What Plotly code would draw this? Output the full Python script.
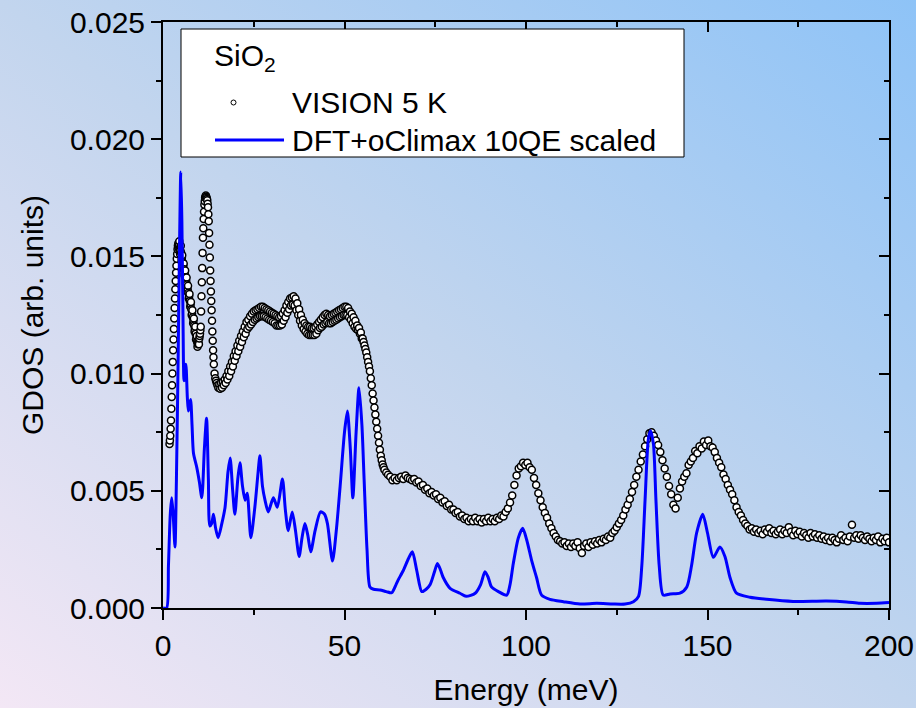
import base64
import plotly.graph_objects as go

# ---------------- data ----------------
# VISION 5 K, low-energy part
vision_E_low = [
    1.8, 1.9, 2.0, 2.1, 2.2, 2.3, 2.4, 2.5, 2.6, 2.7, 2.8, 2.9, 3.0, 3.1, 3.2, 3.3, 3.4, 3.5, 3.6, 3.7,
    3.8, 3.9, 4.0, 4.1,
    4.2, 4.3, 4.4, 4.5, 4.6, 4.7, 4.8, 4.9, 5.0, 5.1, 5.2, 5.3, 5.4, 5.5, 5.6, 5.7, 5.8, 5.9, 6.0, 6.1,
    6.2, 6.3, 6.4, 6.5, 6.6, 6.7, 6.8, 6.9, 7.0, 7.1, 7.2, 7.3, 7.4, 7.5, 7.6, 7.7, 7.8, 7.9, 8.0, 8.1,
    8.2, 8.3, 8.4, 8.5, 8.6, 8.7, 8.8, 8.9, 9.0, 9.1, 9.2, 9.3, 9.4, 9.5, 9.6, 9.7, 9.8, 9.9, 10.0,
    10.1, 10.2, 10.3, 10.4, 10.5, 10.6, 10.7, 10.8, 10.9, 11.0, 11.1, 11.2, 11.3, 11.4, 11.5, 11.6, 11.7,
    11.8, 11.9, 12.0, 12.1, 12.2, 12.3, 12.4, 12.5, 12.6, 12.7, 12.8, 12.9, 13.0, 13.1, 13.2, 13.3, 13.4,
    13.5, 13.6, 13.7, 13.8, 13.9, 14.0,
    14.2, 14.4, 14.6, 14.8, 15.0,
]
vision_G_low = [
    0.00700, 0.00715, 0.00735, 0.00765, 0.00800, 0.00850, 0.00900, 0.00950, 0.01000, 0.01050, 0.01100,
    0.01145, 0.01190, 0.01235, 0.01280, 0.01320, 0.01360, 0.01395, 0.01430, 0.01460, 0.01490, 0.01510,
    0.01530, 0.01545,
    0.01555, 0.01535, 0.01550, 0.01565, 0.01535, 0.01510, 0.01525, 0.01545, 0.01515, 0.01485, 0.01495,
    0.01505, 0.01475, 0.01450, 0.01460, 0.01470, 0.01445, 0.01420, 0.01430, 0.01440, 0.01410, 0.01385,
    0.01395, 0.01410, 0.01380, 0.01350, 0.01360, 0.01375, 0.01345, 0.01320, 0.01330, 0.01340, 0.01310,
    0.01285, 0.01295, 0.01305, 0.01275, 0.01250, 0.01255, 0.01270, 0.01240, 0.01215, 0.01225, 0.01235,
    0.01205, 0.01180, 0.01190, 0.01200, 0.01170, 0.01145, 0.01150, 0.01160, 0.01135, 0.01115, 0.01125,
    0.01135, 0.01130, 0.01125, 0.01150,
    0.01160, 0.01170, 0.01185, 0.01200, 0.01265, 0.01330, 0.01390, 0.01450, 0.01515, 0.01580,
    0.01620, 0.01660, 0.01690, 0.01720, 0.01735, 0.01750, 0.01755, 0.01760, 0.01755, 0.01750,
    0.01745, 0.01740, 0.01725, 0.01710, 0.01680, 0.01650, 0.01600, 0.01550, 0.01495, 0.01440,
    0.01395, 0.01350, 0.01310, 0.01270, 0.01225, 0.01180, 0.01140, 0.01100, 0.01070, 0.01040,
    0.01000, 0.00980, 0.00970, 0.00960, 0.00950,
]

# VISION 5 K, 15-62 meV plateau part
vision_E_mid = [
    15.25, 15.5, 15.75, 16.0, 16.25, 16.5, 16.75, 17.0, 17.25, 17.5, 17.75, 18.0, 18.25, 18.5, 18.75,
    19.0, 19.25, 19.5, 19.75, 20.0, 20.25, 20.5, 20.75, 21.0, 21.25, 21.5, 21.75, 22.0, 22.25, 22.5,
    22.75, 23.0, 23.25, 23.5, 23.75, 24.0, 24.25, 24.5, 24.75, 25.0, 25.25, 25.5, 25.75, 26.0, 26.25,
    26.5, 26.75, 27.0, 27.25, 27.5, 27.75, 28.0, 28.25, 28.5, 28.75, 29.0, 29.25, 29.5, 29.75, 30.0,
    30.25, 30.5, 30.75, 31.0, 31.25, 31.5, 31.75, 32.0, 32.25, 32.5, 32.75, 33.0, 33.25, 33.5, 33.75,
    34.0, 34.25, 34.5, 34.75, 35.0, 35.25, 35.5, 35.75, 36.0, 36.25, 36.5, 36.75, 37.0, 37.25, 37.5,
    37.75, 38.0, 38.25, 38.5, 38.75, 39.0, 39.25, 39.5, 39.75, 40.0, 40.25, 40.5, 40.75, 41.0, 41.25,
    41.5, 41.75, 42.0, 42.25, 42.5, 42.75, 43.0, 43.25, 43.5, 43.75, 44.0, 44.25, 44.5, 44.75, 45.0,
    45.25, 45.5, 45.75, 46.0, 46.25, 46.5, 46.75, 47.0, 47.25, 47.5, 47.75, 48.0, 48.25, 48.5, 48.75,
    49.0, 49.25, 49.5, 49.75, 50.0, 50.25, 50.5, 50.75, 51.0, 51.25, 51.5, 51.75, 52.0, 52.25, 52.5,
    52.75, 53.0, 53.25, 53.5, 53.75, 54.0, 54.25, 54.5, 54.75, 55.0, 55.25, 55.5, 55.75, 56.0, 56.25,
    56.5, 56.75, 57.0, 57.25, 57.5, 57.75, 58.0, 58.25, 58.5, 58.75, 59.0, 59.25, 59.5, 59.75, 60.0,
    60.25, 60.5, 60.75, 61.0, 61.5, 62.0,
]
vision_G_mid = [
    0.00940, 0.00955, 0.00935, 0.00960, 0.00940, 0.00965, 0.00950, 0.00975, 0.00960, 0.00990, 0.00975,
    0.01010, 0.00990, 0.01030, 0.01010, 0.01050, 0.01030, 0.01075, 0.01055, 0.01095, 0.01075, 0.01120,
    0.01095, 0.01140, 0.01115, 0.01160, 0.01135, 0.01180, 0.01155, 0.01200, 0.01170, 0.01220, 0.01190,
    0.01230, 0.01200, 0.01245, 0.01210, 0.01255, 0.01220, 0.01265, 0.01230, 0.01270, 0.01235, 0.01275,
    0.01240, 0.01280, 0.01245, 0.01285, 0.01245, 0.01285, 0.01245, 0.01280, 0.01240, 0.01275, 0.01235,
    0.01270, 0.01230, 0.01265, 0.01225, 0.01260, 0.01220, 0.01255, 0.01215, 0.01250, 0.01205, 0.01245,
    0.01205, 0.01240, 0.01205, 0.01245, 0.01210, 0.01255, 0.01225, 0.01270, 0.01240, 0.01290, 0.01260,
    0.01305, 0.01275, 0.01320, 0.01290, 0.01325, 0.01295, 0.01330, 0.01290, 0.01320, 0.01270, 0.01300,
    0.01250, 0.01275, 0.01225, 0.01250, 0.01205, 0.01230, 0.01190, 0.01215, 0.01180, 0.01205, 0.01170,
    0.01200, 0.01165, 0.01200, 0.01165, 0.01195, 0.01165, 0.01195, 0.01165, 0.01200, 0.01170, 0.01210,
    0.01185, 0.01220, 0.01195, 0.01230, 0.01200, 0.01240, 0.01210, 0.01250, 0.01215, 0.01255, 0.01220,
    0.01250, 0.01215, 0.01245, 0.01215, 0.01250, 0.01220, 0.01255, 0.01225, 0.01260, 0.01230, 0.01265,
    0.01235, 0.01270, 0.01240, 0.01275, 0.01245, 0.01280, 0.01250, 0.01285, 0.01250, 0.01285, 0.01250,
    0.01280, 0.01240, 0.01265, 0.01230, 0.01255, 0.01215, 0.01240, 0.01200, 0.01225, 0.01190, 0.01205,
    0.01185, 0.01195, 0.01170, 0.01175, 0.01150, 0.01150, 0.01135, 0.01120, 0.01105, 0.01090, 0.01070,
    0.01050, 0.01030, 0.01010, 0.00980, 0.00950, 0.00915, 0.00885, 0.00855, 0.00825, 0.00795, 0.00765,
    0.00735, 0.00705, 0.00675, 0.00650, 0.00630, 0.00612, 0.00600, 0.00590, 0.00578, 0.00568,
]

# VISION 5 K, high-energy part
vision_E_high = [
    62.6, 63.2, 63.8, 64.4, 65.0, 65.6, 66.2, 66.8, 67.4, 68.0, 68.6, 69.2, 69.8, 70.4, 71.0, 71.6, 72.2,
    72.8, 73.4, 74.0, 74.6, 75.2, 75.8, 76.4, 77.0, 77.6, 78.2, 78.8, 79.4, 80.0, 80.6, 81.2, 81.8, 82.4,
    83.0, 83.6, 84.2, 84.8, 85.4, 86.0, 86.6, 87.2, 87.8, 88.4, 89.0, 89.6, 90.2, 90.8, 91.4, 92.0, 92.6,
    93.2, 93.8, 94.4, 95.0, 95.6, 96.2, 96.8, 97.4, 98.0, 98.6, 99.2, 99.8, 100.4, 101.0, 101.6, 102.2,
    102.8, 103.4, 104.0, 104.6, 105.2, 105.8, 106.4, 107.0, 107.6, 108.2, 108.8, 109.4, 110.0, 110.6,
    111.2, 111.8, 112.4, 113.0, 113.6, 114.2, 114.8, 115.4, 116.0, 116.6, 117.2, 117.8, 118.4, 119.0,
    119.6, 120.2, 120.8, 121.4, 122.0, 122.6, 123.2, 123.8, 124.4, 125.0, 125.6, 126.2, 126.8, 127.4,
    128.0, 128.6, 129.2, 129.8, 130.4, 131.0, 131.6, 132.2, 132.8, 133.4, 134.0, 134.6, 135.2, 135.8,
    136.4, 137.0, 137.6, 138.2, 138.8, 139.4, 140.0, 140.6, 141.2, 141.8, 142.4, 143.0, 143.6, 144.2,
    144.8, 145.4, 146.0, 146.6, 147.2, 147.8, 148.4, 149.0, 149.6, 150.2, 150.8, 151.4, 152.0, 152.6,
    153.2, 153.8, 154.4, 155.0, 155.6, 156.2, 156.8, 157.4, 158.0, 158.6, 159.2, 159.8, 160.4, 161.0,
    161.6, 162.2, 162.8, 163.4, 164.0, 164.6, 165.2, 165.8, 166.4, 167.0, 167.6, 168.2, 168.8, 169.4,
    170.0, 170.6, 171.2, 171.8, 172.4, 173.0, 173.6, 174.2, 174.8, 175.4, 176.0, 176.6, 177.2, 177.8,
    178.4, 179.0, 179.6, 180.2, 180.8, 181.4, 182.0, 182.6, 183.2, 183.8, 184.4, 185.0, 185.6, 186.2,
    186.8, 187.4, 188.0, 188.6, 189.2, 189.8, 190.4, 191.0, 191.6, 192.2, 192.8, 193.4, 194.0, 194.6,
    195.2, 195.8, 196.4, 197.0, 197.6, 198.2, 198.8, 199.4, 200.0,
]
vision_G_high = [
    0.00560, 0.00545, 0.00555, 0.00545, 0.00555, 0.00560, 0.00550, 0.00565, 0.00555, 0.00550, 0.00545,
    0.00550, 0.00535, 0.00540, 0.00520, 0.00525, 0.00505, 0.00510, 0.00490, 0.00495, 0.00480, 0.00485,
    0.00465, 0.00470, 0.00450, 0.00455, 0.00435, 0.00440, 0.00420, 0.00420, 0.00405, 0.00410, 0.00390,
    0.00395, 0.00380, 0.00385, 0.00370, 0.00380, 0.00370, 0.00385, 0.00370, 0.00380, 0.00365, 0.00380,
    0.00370, 0.00385, 0.00370, 0.00380, 0.00370, 0.00385, 0.00380, 0.00395, 0.00390, 0.00410, 0.00425,
    0.00450, 0.00480, 0.00525, 0.00565, 0.00595, 0.00605, 0.00620, 0.00610, 0.00620, 0.00600, 0.00590,
    0.00555, 0.00525, 0.00490, 0.00460, 0.00430, 0.00405, 0.00385, 0.00360, 0.00340, 0.00320, 0.00305,
    0.00290, 0.00285, 0.00275, 0.00280, 0.00265, 0.00275, 0.00260, 0.00275, 0.00265, 0.00280, 0.00255,
    0.00235, 0.00265, 0.00275, 0.00260, 0.00280, 0.00270, 0.00285, 0.00275, 0.00290, 0.00280, 0.00295,
    0.00290, 0.00305, 0.00300, 0.00320, 0.00330, 0.00345, 0.00360, 0.00375, 0.00395, 0.00420, 0.00440,
    0.00465, 0.00495, 0.00525, 0.00560, 0.00590, 0.00625, 0.00655, 0.00690, 0.00720, 0.00745, 0.00750,
    0.00735, 0.00715, 0.00695, 0.00665, 0.00630, 0.00595, 0.00560, 0.00520, 0.00485, 0.00440, 0.00425,
    0.00470, 0.00510, 0.00540, 0.00560, 0.00575, 0.00610, 0.00625, 0.00640, 0.00670, 0.00660, 0.00690,
    0.00680, 0.00710, 0.00695, 0.00715, 0.00690, 0.00685, 0.00665, 0.00640, 0.00620, 0.00600, 0.00570,
    0.00550, 0.00525, 0.00505, 0.00485, 0.00460, 0.00430, 0.00410, 0.00395, 0.00375, 0.00360, 0.00350,
    0.00335, 0.00340, 0.00325, 0.00335, 0.00320, 0.00330, 0.00315, 0.00335, 0.00325, 0.00340, 0.00320,
    0.00330, 0.00315, 0.00325, 0.00335, 0.00315, 0.00330, 0.00320, 0.00345, 0.00325, 0.00310, 0.00330,
    0.00315, 0.00325, 0.00305, 0.00320, 0.00310, 0.00300, 0.00320, 0.00305, 0.00315, 0.00300, 0.00310,
    0.00295, 0.00305, 0.00290, 0.00300, 0.00285, 0.00300, 0.00290, 0.00280, 0.00295, 0.00310, 0.00290,
    0.00300, 0.00285, 0.00305, 0.00355, 0.00300, 0.00310, 0.00295, 0.00310, 0.00300, 0.00290, 0.00305,
    0.00295, 0.00285, 0.00300, 0.00290, 0.00305, 0.00280, 0.00295, 0.00285, 0.00300, 0.00280,
]

# DFT + oClimax (10QE, scaled)
dft_E = [
    0.0, 1.0, 1.5, 2.0, 2.4, 2.8, 3.3, 3.7, 4.2, 4.6, 4.9, 5.2, 5.5, 5.8, 6.3, 6.7, 7.0, 7.6, 8.0, 8.4,
    9.3, 10.0, 10.7, 11.4, 12.0, 12.5, 12.9, 13.4, 13.9, 14.5, 15.2, 16.2, 17.1, 17.9, 18.5, 19.2, 19.8,
    20.6, 21.2, 21.9, 22.6, 23.2, 24.2, 25.3, 26.2, 26.7, 27.4, 28.1, 29.0, 30.4, 31.5, 32.9, 33.7, 34.5,
    35.6, 36.5, 37.5, 38.3, 39.1, 39.9, 40.7, 41.9, 43.4, 44.5, 45.3, 46.7, 47.8, 48.8, 50.0, 50.8, 51.6,
    52.3, 53.2, 54.0, 54.8, 55.4, 56.2, 57.0, 58.0, 59.8, 61.5, 63.0, 64.2, 64.8, 66.2, 67.6, 68.7, 69.9,
    71.3, 72.5, 73.6, 74.7, 75.6, 76.5, 77.2, 79.1, 81.8, 83.5, 86.0, 87.5, 88.7, 89.6, 90.5, 92.4, 94.7,
    95.6, 96.5, 97.9, 99.1, 100.2, 101.6, 102.9, 104.3, 106.6, 110.3, 114.9, 119.5, 124.0, 127.3, 129.6,
    131.0, 131.9, 132.8, 133.7, 134.3, 135.1, 135.8, 136.7, 137.8, 139.7, 142.4, 144.3, 145.6, 147.0,
    148.7, 150.0, 151.6, 153.4, 154.8, 156.2, 158.0, 161.7, 166.3, 173.6, 182.8, 188.3, 192.0, 196.6,
    200.0,
]
dft_G = [
    0.0, 0.0, 0.0018, 0.0040, 0.0047, 0.0040, 0.0026, 0.0055, 0.0110, 0.0160, 0.0186, 0.0165, 0.0125,
    0.0097, 0.0104, 0.0090, 0.0084, 0.0089, 0.0078, 0.0066, 0.0060, 0.0054, 0.0047, 0.0068, 0.0081,
    0.0055, 0.0035, 0.0036, 0.0040, 0.0034, 0.0030, 0.0036, 0.0043, 0.0058, 0.0064, 0.0050, 0.0040,
    0.0055, 0.0062, 0.0052, 0.0046, 0.0049, 0.0030, 0.0043, 0.0058, 0.0065, 0.0052, 0.0046, 0.0041,
    0.0047, 0.0043, 0.0055, 0.0042, 0.0033, 0.0041, 0.0033, 0.0022, 0.0030, 0.0036, 0.0031, 0.0024,
    0.0033, 0.0041, 0.0040, 0.0036, 0.0020, 0.0034, 0.0052, 0.0075, 0.0084, 0.0068, 0.0047, 0.0075,
    0.0094, 0.0078, 0.0055, 0.0025, 0.0009, 0.0008, 0.00077, 0.0007, 0.00065, 0.0010, 0.0012, 0.0016,
    0.0021, 0.0024, 0.0016, 0.0007, 0.0008, 0.0010, 0.0015, 0.0019, 0.0016, 0.0013, 0.00084, 0.00063,
    0.0005, 0.00063, 0.0010, 0.00155, 0.0013, 0.0009, 0.0007, 0.00055, 0.0010, 0.0019, 0.0030, 0.0034,
    0.0029, 0.0020, 0.0013, 0.00055, 0.00037, 0.00027, 0.00017, 0.0002, 0.00017, 0.00017, 0.00027,
    0.0005, 0.0018, 0.0046, 0.0072, 0.00756, 0.0070, 0.0046, 0.0018, 0.00055, 0.0006, 0.00063, 0.0009,
    0.0018, 0.0032, 0.0040, 0.0032, 0.00216, 0.0026, 0.0022, 0.0013, 0.00063, 0.00046, 0.00037,
    0.00028, 0.0003, 0.00026, 0.0002, 0.0002, 0.00023,
]

x_ticks = [0, 50, 100, 150, 200]
y_ticks = [0.000, 0.005, 0.010, 0.015, 0.020, 0.025]
y_tick_labels = ["0.000", "0.005", "0.010", "0.015", "0.020", "0.025"]

assert len(vision_E_low) == len(vision_G_low)
assert len(vision_E_mid) == len(vision_G_mid)
assert len(vision_E_high) == len(vision_G_high)
assert len(dft_E) == len(dft_G)

vision_E = vision_E_low + vision_E_mid + vision_E_high
vision_G = vision_G_low + vision_G_mid + vision_G_high

# ---------------- figure geometry ----------------
W, H = 916, 708
L, R, T, B = 163, 889, 22, 608


def px(x):
    return x / W


def py(y):
    return 1 - y / H


FONT = "Arial, 'Liberation Sans', sans-serif"
FS = 30

svg = (
    "<svg xmlns='http://www.w3.org/2000/svg' width='916' height='708' preserveAspectRatio='none'>"
    "<defs><linearGradient id='g' x1='0' y1='1' x2='1' y2='0'>"
    "<stop offset='0' stop-color='#f3e7f5'/>"
    "<stop offset='0.5' stop-color='#c2d5ee'/>"
    "<stop offset='1' stop-color='#8ec3f7'/>"
    "</linearGradient></defs>"
    "<rect x='0' y='0' width='916' height='708' fill='url(#g)'/></svg>"
)
bg_src = "data:image/svg+xml;base64," + base64.b64encode(svg.encode()).decode()

fig = go.Figure()

fig.add_trace(go.Scatter(
    x=vision_E, y=vision_G, mode="markers", name="VISION 5 K",
    marker=dict(symbol="circle", size=7, color="white", line=dict(color="black", width=1.5)),
    showlegend=False,
))
fig.add_trace(go.Scatter(
    x=dft_E, y=dft_G, mode="lines", name="DFT+oClimax 10QE scaled",
    line=dict(color="#0000ff", width=3, shape="spline", smoothing=0.7),
    showlegend=False,
))
# empty trace that activates the mirrored (top/right) axes with inward ticks
fig.add_trace(go.Scatter(x=[None], y=[None], xaxis="x2", yaxis="y2", showlegend=False,
                         hoverinfo="skip", mode="markers"))

xdom = [px(L), px(R)]
ydom = [py(B), py(T)]

axis_common = dict(
    showgrid=False, zeroline=False, showline=True, linecolor="black", linewidth=2,
    tickcolor="black", tickwidth=2, automargin=False,
)
tick_font = dict(family=FONT, size=FS, color="black")

fig.update_layout(
    width=W, height=H, template="none",
    margin=dict(l=0, r=0, t=0, b=0, pad=0, autoexpand=False),
    paper_bgcolor="rgba(0,0,0,0)", plot_bgcolor="rgba(0,0,0,0)",
    showlegend=False,
    font=dict(family=FONT, size=FS, color="black"),
    xaxis=dict(
        domain=xdom, range=[0, 200], anchor="y", **axis_common,
        ticks="outside", ticklen=10, tickvals=x_ticks,
        minor=dict(ticks="outside", ticklen=5, tickwidth=2, tickcolor="black", dtick=25, tick0=0),
        tickfont=tick_font,
        title=dict(text="Energy (meV)", font=tick_font, standoff=18),
    ),
    yaxis=dict(
        domain=ydom, range=[0, 0.025], anchor="x", **axis_common,
        ticks="outside", ticklen=10, tickvals=y_ticks, ticktext=y_tick_labels,
        minor=dict(ticks="outside", ticklen=5, tickwidth=2, tickcolor="black", dtick=0.0025, tick0=0),
        tickfont=tick_font,
        title=dict(text="GDOS (arb. units)", font=tick_font, standoff=17),
    ),
    xaxis2=dict(
        domain=xdom, range=[0, 200], overlaying="x", side="top", anchor="y2", **axis_common,
        ticks="inside", ticklen=10, tickvals=x_ticks, showticklabels=False,
        minor=dict(ticks="inside", ticklen=5, tickwidth=2, tickcolor="black", dtick=25, tick0=0),
    ),
    yaxis2=dict(
        domain=ydom, range=[0, 0.025], overlaying="y", side="right", anchor="x2", **axis_common,
        ticks="inside", ticklen=10, tickvals=y_ticks, showticklabels=False,
        minor=dict(ticks="inside", ticklen=5, tickwidth=2, tickcolor="black", dtick=0.0025, tick0=0),
    ),
    images=[dict(source=bg_src, xref="paper", yref="paper", x=0, y=1, sizex=1, sizey=1,
                 sizing="stretch", layer="below", xanchor="left", yanchor="top")],
)

# ---------------- legend box (drawn as in the reference) ----------------
fig.add_shape(type="rect", xref="paper", yref="paper",
              x0=px(181), x1=px(684), y0=py(157), y1=py(29),
              line=dict(color="black", width=1), fillcolor="white", layer="above")
fig.add_shape(type="line", xref="paper", yref="paper",
              x0=px(215), x1=px(284), y0=py(140), y1=py(140),
              line=dict(color="#0000ff", width=3), layer="above")
fig.add_shape(type="circle", xref="paper", yref="paper",
              x0=px(231), x1=px(236), y0=py(105), y1=py(100),
              line=dict(color="black", width=1), fillcolor="white", layer="above")

legend_font = dict(family=FONT, size=FS, color="black")
fig.add_annotation(text="SiO<sub>2</sub>", xref="paper", yref="paper", x=px(212), y=py(58),
                   xanchor="left", yanchor="middle", showarrow=False, font=legend_font)
fig.add_annotation(text="VISION 5 K", xref="paper", yref="paper", x=px(290), y=py(102),
                   xanchor="left", yanchor="middle", showarrow=False, font=legend_font)
fig.add_annotation(text="DFT+oClimax 10QE scaled", xref="paper", yref="paper", x=px(290), y=py(140),
                   xanchor="left", yanchor="middle", showarrow=False, font=legend_font)

fig.write_html(
    "out.html",
    config={"displayModeBar": False, "staticPlot": True},
    post_script="document.body.style.margin='0';document.body.style.overflow='hidden';",
)
